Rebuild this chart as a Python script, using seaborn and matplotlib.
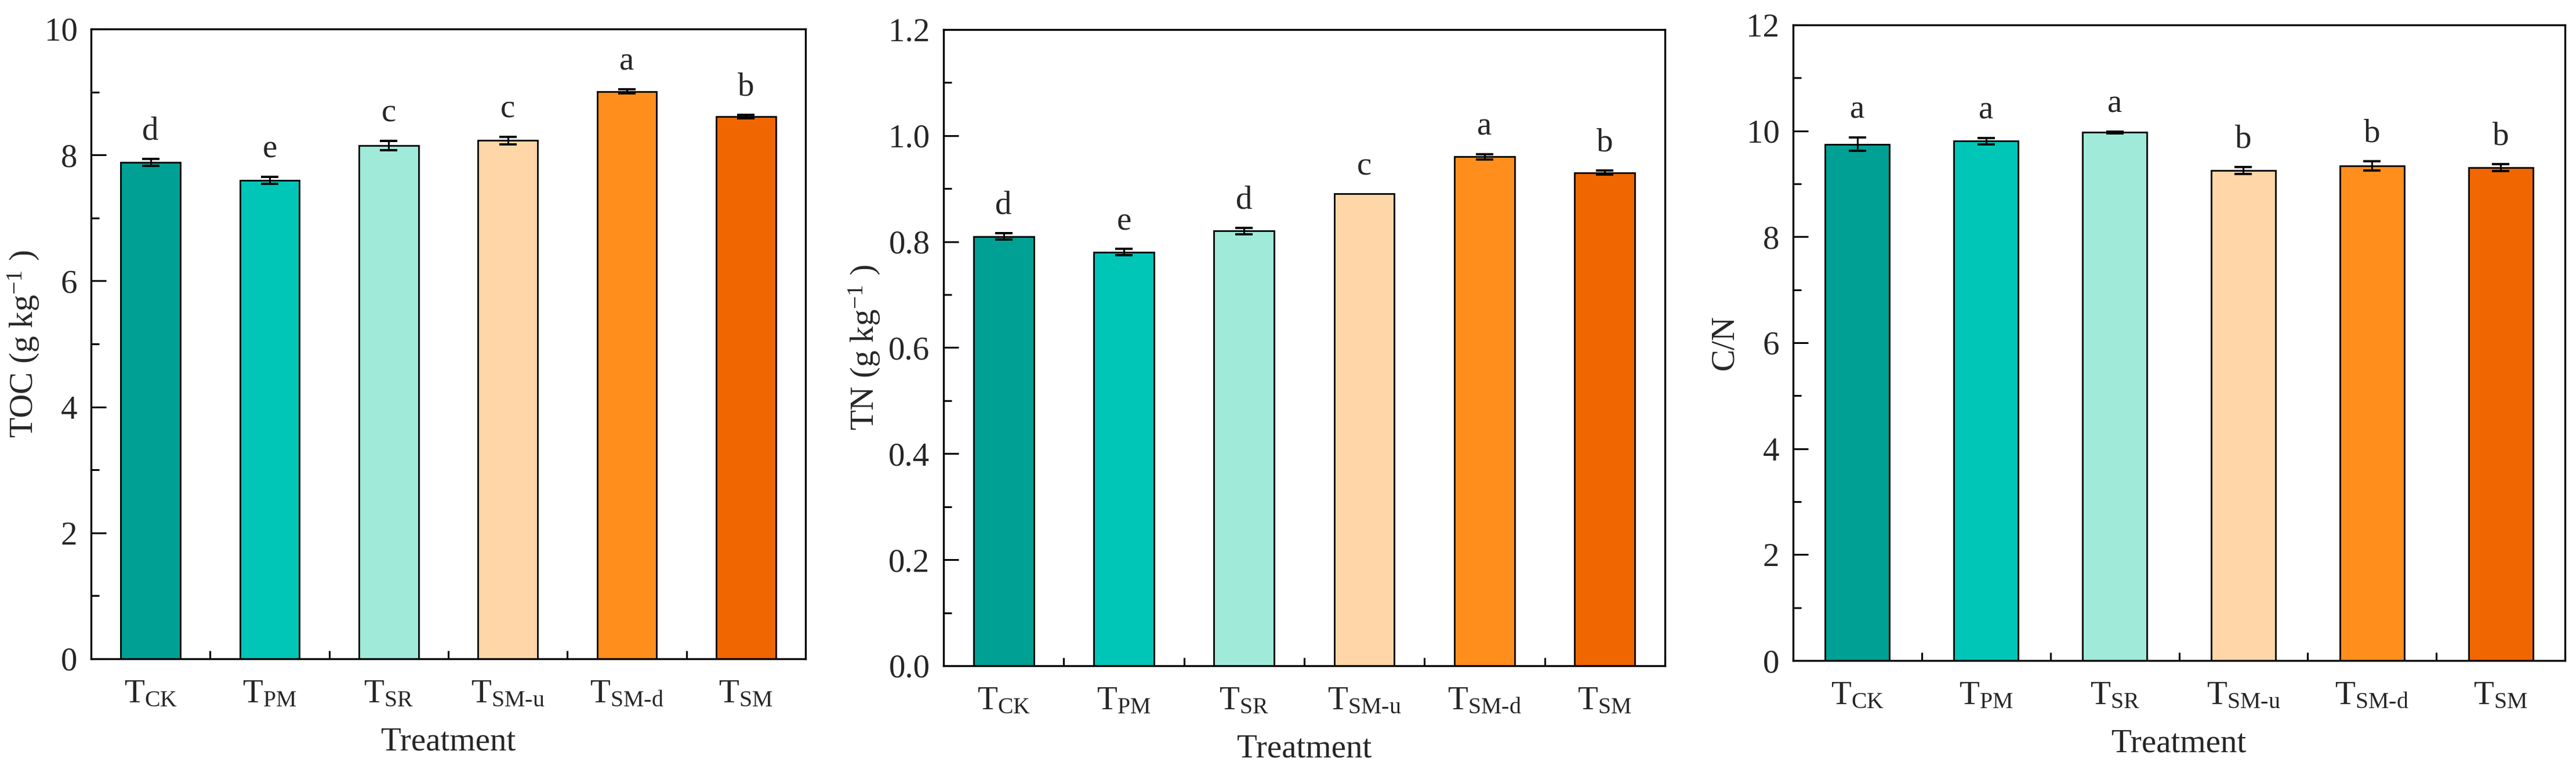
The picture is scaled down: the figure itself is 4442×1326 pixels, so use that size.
import numpy as np
import pandas as pd
import matplotlib
matplotlib.use("Agg")
import matplotlib.pyplot as plt
import seaborn as sns
from matplotlib.ticker import MultipleLocator, FormatStrFormatter

# =========================
# DATA
# =========================
treatments = ["CK", "PM", "SR", "SM-u", "SM-d", "SM"]
tick_labels = [r"T$_{\text{" + t + "}}$" for t in treatments]

bar_colors = ["#00A094", "#00C6B8", "#A0EAD9", "#FFD6A8", "#FF8E1C", "#F06600"]

toc_mean = [7.88, 7.60, 8.15, 8.23, 9.01, 8.61]
toc_sd = [0.055, 0.055, 0.07, 0.06, 0.03, 0.03]
toc_letters = ["d", "e", "c", "c", "a", "b"]

tn_mean = [0.81, 0.78, 0.82, 0.89, 0.96, 0.93]
tn_sd = [0.006, 0.006, 0.006, 0.0, 0.005, 0.004]
tn_letters = ["d", "e", "d", "c", "a", "b"]

cn_mean = [9.75, 9.81, 9.97, 9.25, 9.34, 9.31]
cn_sd = [0.13, 0.06, 0.02, 0.065, 0.09, 0.065]
cn_letters = ["a", "a", "a", "b", "b", "b"]

# =========================
# STYLE
# =========================
sns.set_style("ticks")
plt.rcParams["font.family"] = ["Liberation Serif", "DejaVu Serif"]
plt.rcParams["mathtext.fontset"] = "custom"
plt.rcParams["mathtext.rm"] = "Liberation Serif"
plt.rcParams["mathtext.it"] = "Liberation Serif:italic"
plt.rcParams["mathtext.bf"] = "Liberation Serif:bold"
plt.rcParams["axes.unicode_minus"] = True

FS = 41

fig = plt.figure(figsize=(44.42, 13.26), dpi=100)
W, H = 4442, 1326


def px_axes(left, right, top, bottom):
    return fig.add_axes([left / W, 1 - bottom / H, (right - left) / W, (bottom - top) / H])


def draw_panel(ax, mean, sd, letters, ylabel, ymax, major, minor, fmt, ypad):
    df = pd.DataFrame({"Treatment": tick_labels, "value": mean})
    sns.barplot(data=df, x="Treatment", y="value", hue="Treatment",
                palette=bar_colors, saturation=1, legend=False, width=0.5,
                edgecolor="black", linewidth=2, errorbar=None, ax=ax)

    xs = np.arange(len(mean))
    m = np.array(mean)
    s = np.array(sd)
    keep = s > 0
    ax.errorbar(xs[keep], m[keep], yerr=s[keep], fmt="none", ecolor="black",
                elinewidth=2.2, capsize=11, capthick=2.8, zorder=5)

    for x, y, e, lab in zip(xs, m, s, letters):
        ax.annotate(lab, (x, y + e), xytext=(0, 24), textcoords="offset points",
                    ha="center", va="baseline", fontsize=FS)

    ax.set_xlim(-0.5, len(mean) - 0.5)
    ax.set_ylim(0, ymax)
    ax.set_xticks(xs, tick_labels)
    ax.set_xticks(xs + 0.5, minor=True)
    ax.yaxis.set_major_locator(MultipleLocator(major))
    ax.yaxis.set_minor_locator(MultipleLocator(minor))
    ax.yaxis.set_major_formatter(FormatStrFormatter(fmt))

    ax.tick_params(axis="both", which="major", direction="in", length=19,
                   width=2.2, labelsize=FS, color="black")
    ax.tick_params(axis="y", which="major", pad=17)
    ax.tick_params(axis="x", which="major", pad=25)
    ax.tick_params(axis="both", which="minor", direction="in", length=10,
                   width=2.2, color="black")

    for sp in ax.spines.values():
        sp.set_visible(True)
        sp.set_linewidth(2.4)
        sp.set_color("black")

    ax.set_xlabel("Treatment", fontsize=FS, labelpad=22)
    ax.set_ylabel(ylabel, fontsize=FS, labelpad=ypad)


ax1 = px_axes(157, 1389, 50, 1136)
draw_panel(ax1, toc_mean, toc_sd, toc_letters,
           r"TOC (g kg$^{\mathregular{-1}}$ )", 10, 2, 1, "%d", 4)

ax2 = px_axes(1627, 2871, 51, 1148)
draw_panel(ax2, tn_mean, tn_sd, tn_letters,
           r"TN (g kg$^{\mathregular{-1}}$ )", 1.2, 0.2, 0.1, "%.1f", 8)

ax3 = px_axes(3092, 4423, 43, 1139)
draw_panel(ax3, cn_mean, cn_sd, cn_letters, "C/N", 12, 2, 1, "%d", 8)

fig.savefig("out.png", dpi=100, facecolor="white")
